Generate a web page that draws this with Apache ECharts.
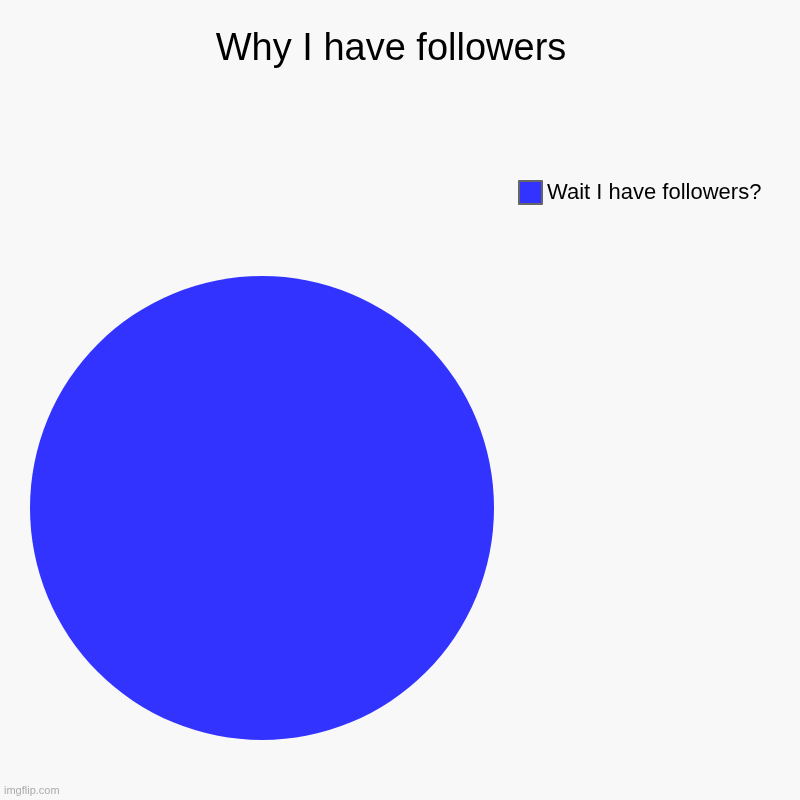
<!DOCTYPE html>
<html>
<head>
<meta charset="utf-8">
<script src="https://cdn.jsdelivr.net/npm/echarts@6/dist/echarts.min.js"></script>
<style>
  html, body { margin: 0; padding: 0; background: #f8f8f8; }
  #chart { width: 800px; height: 800px; }
</style>
</head>
<body>
<div id="chart"></div>
<script>
const titleText = "Why I have followers";
const sliceNames = ["Wait I have followers?"];
const sliceValues = [100];
const sliceColors = ["#3333ff"];

const chart = echarts.init(document.getElementById("chart"));

const option = {
  backgroundColor: "#f8f8f8",
  animation: false,
  title: {
    text: titleText,
    left: 386,
    top: 26,
    textAlign: "center",
    textStyle: {
      fontFamily: "Liberation Sans, Arial, sans-serif",
      fontSize: 38,
      fontWeight: "normal",
      color: "#000",
    },
  },
  legend: {
    left: 518,
    top: 180,
    padding: 0,
    orient: "vertical",
    itemWidth: 23,
    itemHeight: 23,
    icon: "rect",
    data: sliceNames,
    itemStyle: { borderColor: "#666", borderWidth: 2 },
    textStyle: {
      fontFamily: "Liberation Sans, Arial, sans-serif",
      fontSize: 22,
      color: "#000",
    },
  },
  graphic: [
    {
      type: "text",
      left: 4,
      top: 785,
      style: {
        text: "imgflip.com",
        fill: "#aaa",
        font: "11px Liberation Sans, Arial, sans-serif",
      },
    },
  ],
  series: [
    {
      type: "pie",
      center: [262, 508],
      radius: [0, 232],
      label: { show: false },
      labelLine: { show: false },
      emphasis: { disabled: true },
      data: sliceNames.map((n, i) => ({
        name: n,
        value: sliceValues[i],
        itemStyle: { color: sliceColors[i] },
      })),
    },
  ],
};

chart.setOption(option);
</script>
</body>
</html>
